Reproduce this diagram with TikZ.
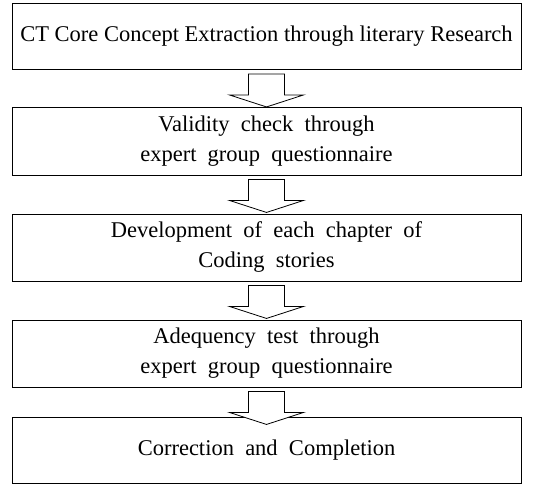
\documentclass[tikz,border=0pt]{standalone}
\usepackage{fontspec}
\setmainfont{Liberation Serif}
\usetikzlibrary{calc}
\begin{document}
\begin{tikzpicture}[x=1pt, y=-1pt, line join=miter, font=\fontsize{22.5}{30}\selectfont]
			\tikzset{stepbox/.style={draw, line width=0.9pt, minimum width=509pt, minimum height=66pt, align=center, inner sep=0pt},
				hollowarrow/.style={draw, line width=0.8pt, fill=white}}
			\useasboundingbox (0,0) rectangle (544,484);
			% Các bước
			\node[stepbox] (s1) at (266.5,36.5) {CT Core Concept Extraction through literary Research};
			\node[stepbox, minimum height=68pt] (s2) at (266.5,141) {Validity\ \ check\ \ through\\expert\ \ group\ \ questionnaire};
			\node[stepbox, minimum height=67pt] (s3) at (266.5,247.5) {Development\ \ of\ \ each\ \ chapter\ \ of\\Coding\ \ stories};
			\node[stepbox, minimum height=67pt] (s4) at (266.5,353.5) {Adequency\ \ test\ \ through\\expert\ \ group\ \ questionnaire};
			\node[stepbox] (s5) at (266.5,450) {Correction\ \ and\ \ Completion};
			% Mũi tên rỗng
			\foreach \a/\b in {s1/s2, s2/s3, s3/s4, s4/s5}
			\draw[hollowarrow] ($(\a.south)+(-18,4)$) -- ++(0,21) -- ++(-19,0) -- ($(\a.south)+(0,37)$) -- ($(\a.south)+(37,25)$) -- ++(-19,0) -- ++(0,-21) -- cycle;
		\end{tikzpicture}
\end{document}
